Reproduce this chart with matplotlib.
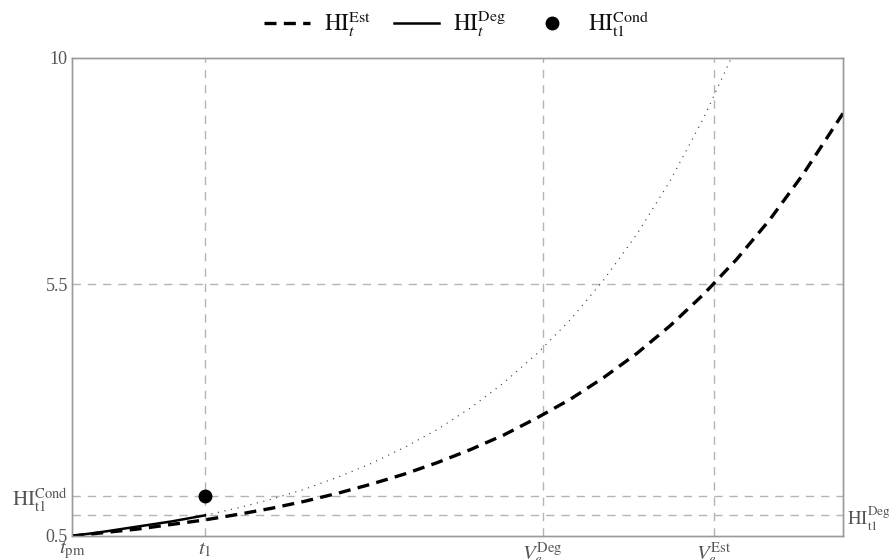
import numpy as np
import matplotlib
matplotlib.use("Agg")
import matplotlib.pyplot as plt

plt.rcParams['font.family'] = ['Liberation Serif', 'DejaVu Serif']
plt.rcParams['mathtext.fontset'] = 'stix'

# health index curves (time in units of t1)
t_est = [0.0, 0.25, 0.5, 0.75, 1.0, 1.25, 1.5, 1.75, 2.0, 2.25, 2.5, 2.75,
         3.0, 3.25, 3.5, 3.75, 4.0, 4.25, 4.5, 4.75, 5.0, 5.25, 5.5, 5.8]
hi_est = [0.50, 0.57, 0.64, 0.73, 0.82, 0.93, 1.05, 1.19, 1.35, 1.53, 1.73, 1.96,
          2.22, 2.51, 2.85, 3.22, 3.65, 4.13, 4.68, 5.30, 6.00, 6.79, 7.69, 8.90]

t_deg = [0.0, 0.25, 0.5, 0.75, 1.0]
hi_deg = [0.50, 0.59, 0.69, 0.79, 0.91]

t_proj = [1.0, 1.25, 1.5, 1.75, 2.0, 2.25, 2.5, 2.75, 3.0, 3.25, 3.5, 3.75,
          4.0, 4.25, 4.5, 4.75, 5.0]
hi_proj = [0.91, 1.06, 1.23, 1.43, 1.67, 1.94, 2.26, 2.62, 3.05, 3.55, 4.13, 4.80,
           5.59, 6.50, 7.56, 8.80, 10.23]

t1 = 1.0
hi_cond = 1.3
hi_t1_deg = 0.91
v_deg = 3.54
v_est = 4.83
hi_thr = 5.5

x_ticks = [0.0, t1, v_deg, v_est]
x_labels = [r'$t_{\mathrm{pm}}$', r'$t_1$', r'$V_e^{\mathrm{Deg}}$', r'$V_e^{\mathrm{Est}}$']
y_ticks = [0.5, hi_cond, hi_thr, 10]
y_labels = ['0.5', r'$\mathrm{HI}_{\mathrm{t1}}^{\mathrm{Cond}}$', '5.5', '10']

fig = plt.figure(figsize=(8.92, 5.6), dpi=100)
ax = fig.add_axes([72/892, 24/560, 771/892, 478/560])

gcol = '#b4b4b4'
gdash = (0, (6, 5))
for yv in [hi_cond, hi_t1_deg, hi_thr]:
    ax.axhline(yv, color=gcol, lw=1, ls=gdash, zorder=1)
for xv in [t1, v_deg, v_est]:
    ax.axvline(xv, color=gcol, lw=1, ls=gdash, zorder=1)

ax.plot(t_proj, hi_proj, color='#333333', lw=0.8, ls=(0, (1, 5)), zorder=2)
l_est, = ax.plot(t_est, hi_est, color='black', lw=2.4, ls=(0, (3.6, 2.2)), zorder=3)
l_deg, = ax.plot(t_deg, hi_deg, color='black', lw=1.8, zorder=4)
l_cond, = ax.plot([t1], [hi_cond], 'o', color='black', ms=9, zorder=5)

ax.set_xlim(0, 5.8)
ax.set_ylim(0.5, 10)
ax.set_xticks(x_ticks)
ax.set_xticklabels(x_labels)
ax.set_yticks(y_ticks)
ax.set_yticklabels(y_labels)

ax2 = ax.twinx()
ax2.set_ylim(0.5, 10)
ax2.set_yticks([hi_t1_deg])
ax2.set_yticklabels([r'$\mathrm{HI}_{\mathrm{t1}}^{\mathrm{Deg}}$'])

for a in (ax, ax2):
    for s in a.spines.values():
        s.set_color('#9a9a9a')
        s.set_linewidth(1)
    a.tick_params(length=0, labelsize=13, colors='#555555', pad=3)

# symbolic labels a bit larger than the plain numbers
for lab in ax.get_xticklabels() + ax.get_yticklabels():
    if lab.get_text().startswith('$'):
        lab.set_fontsize(15)
for lab in ax2.get_yticklabels():
    lab.set_fontsize(13.5)

fig.legend([l_est, l_deg, l_cond],
           [r'$\mathrm{HI}_t^{\mathrm{Est}}$', r'$\mathrm{HI}_t^{\mathrm{Deg}}$',
            r'$\mathrm{HI}_{\mathrm{t1}}^{\mathrm{Cond}}$'],
           loc='center', bbox_to_anchor=(0.512, 0.957), ncol=3, frameon=False,
           fontsize=16.5, handlelength=2.0, columnspacing=1.0, handletextpad=0.6,
           labelcolor='#111111')

fig.savefig('out.png', dpi=100)
